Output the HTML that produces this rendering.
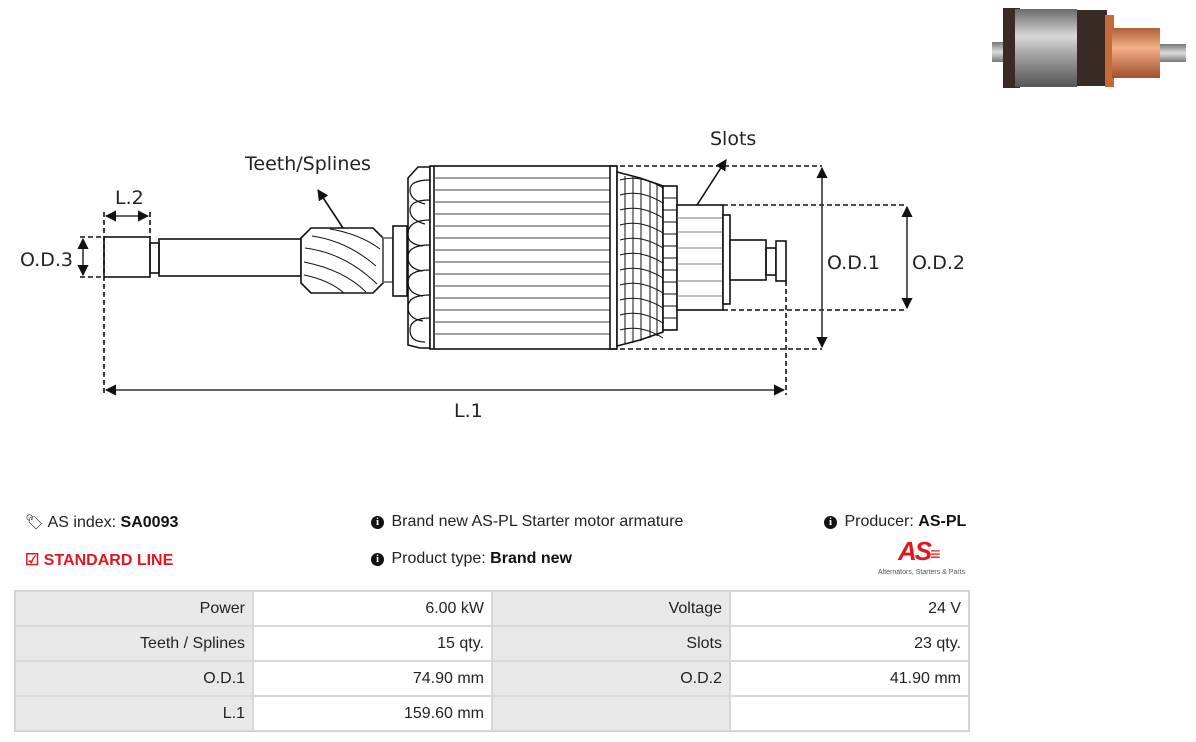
<!DOCTYPE html>
<html><head><meta charset="utf-8"><style>
body{margin:0;width:1196px;height:742px;background:#fff;position:relative;overflow:hidden;font-family:"Liberation Sans",sans-serif;color:#222}
.t{position:absolute;font-size:16px;white-space:nowrap}
b{font-weight:bold;color:#111}
.i{display:inline-block;width:13px;height:13px;border-radius:50%;background:#111;color:#fff;font-size:11px;font-weight:bold;text-align:center;line-height:13px;font-family:"Liberation Serif",serif;vertical-align:1px;margin-right:3px}
table{position:absolute;left:14px;top:590px;border-collapse:separate;border-spacing:0;border:1px solid #d0d0d0;background:#d8d8d8}
td{height:35px;padding:0 7px;text-align:right;font-size:16px;border:1px solid #d8d8d8;box-sizing:border-box}
td.l{background:#e8e8e8;width:238px}
td.v{background:#fff;width:239px}
</style></head><body>
<svg width="1196" height="500" style="position:absolute;left:0;top:0" xmlns="http://www.w3.org/2000/svg">
<defs>
<linearGradient id="ph" x1="0" y1="0" x2="0" y2="1"><stop offset="0" stop-color="#6a6a6a"/><stop offset=".35" stop-color="#d8d8d8"/><stop offset=".6" stop-color="#a0a0a0"/><stop offset="1" stop-color="#555"/></linearGradient>
<linearGradient id="cu" x1="0" y1="0" x2="0" y2="1"><stop offset="0" stop-color="#b06038"/><stop offset=".4" stop-color="#f4b088"/><stop offset="1" stop-color="#a05030"/></linearGradient>
<linearGradient id="sh" x1="0" y1="0" x2="0" y2="1"><stop offset="0" stop-color="#777"/><stop offset=".5" stop-color="#ddd"/><stop offset="1" stop-color="#777"/></linearGradient>
<marker id="a" viewBox="0 0 10 10" refX="9" refY="5" markerWidth="7" markerHeight="7" orient="auto-start-reverse"><path d="M0,0L10,5L0,10z" fill="#111"/></marker>
</defs>
<!-- photo -->
<rect x="992" y="42" width="14" height="20" fill="url(#sh)"/>
<rect x="1003" y="8" width="17" height="80" fill="#3a2a25"/>
<rect x="1015" y="9" width="62" height="78" fill="url(#ph)"/>
<rect x="1077" y="10" width="30" height="76" fill="#3a2a25"/>
<rect x="1105" y="15" width="9" height="72" fill="#c86a38"/>
<rect x="1112" y="28" width="48" height="50" fill="url(#cu)"/>
<rect x="1160" y="44" width="26" height="18" fill="url(#sh)"/>
<g fill="none" stroke="#111" stroke-width="1.6">
<rect x="104" y="237" width="46" height="40" fill="#fff"/>
<rect x="150" y="243" width="9" height="30"/>
<rect x="159" y="239" width="142" height="37"/>
<path d="M311,228H373L383,238V283L373,293H311L301,283V238Z" fill="#fff"/>
<g stroke-width="1"><path d="M312,236q35,5 64,30M305,248q40,5 72,36M304,262q40,8 62,30M304,275q25,5 40,18M330,229q30,5 50,20"/></g>
<rect x="383" y="238" width="10" height="44" stroke="#666"/>
<rect x="393" y="226" width="14" height="70" fill="#fff"/>
<path d="M430,167H418L408,178V345L420,348H430Z" fill="#fff"/>
<g stroke-width="1.2">
<path d="M430,180q-20,0 -20,10t15,14"/><path d="M430,200q-20,0 -20,10t15,14"/><path d="M430,220q-20,0 -22,12t15,14"/><path d="M430,245q-22,0 -22,12t15,14"/><path d="M430,270q-22,0 -22,12t15,14"/><path d="M430,295q-22,0 -22,12t15,14"/><path d="M430,318q-20,0 -20,12t15,12"/>
</g>
<rect x="430" y="166" width="182" height="183" fill="#fff"/>
<line x1="434" y1="166" x2="434" y2="349"/>
<g stroke="#444" stroke-width="1">
<path d="M434,178H610M434,190H610M434,202H610M434,214H610M434,226H610M434,238H610M434,250H610M434,262H610M434,274H610M434,286H610M434,298H610M434,310H610M434,322H610M434,334H610"/>
</g>
<rect x="610" y="166" width="7" height="183" fill="#fff"/>
<path d="M617,172L640,178L663,186V332L640,340L617,346Z" fill="#fff"/>
<g stroke-width="1">
<path d="M620,180q20,-6 43,8M620,195q20,-6 43,8M620,210q20,-6 43,8M620,225q20,-6 43,8M620,240q20,-6 43,8M620,255q20,-6 43,8M620,270q20,-6 43,8M620,285q20,-6 43,8M620,300q20,-6 43,8M620,315q20,-6 43,8M620,330q20,-6 43,8"/>
<path d="M625,176V344M633,177V343M641,178V341M650,181V338M657,183V336"/>
</g>
<rect x="663" y="186" width="14" height="144" fill="#fff"/>
<path d="M663,198H677M663,210H677M663,222H677M663,234H677M663,246H677M663,258H677M663,270H677M663,282H677M663,294H677M663,306H677M663,318H677" stroke-width="1"/>
<rect x="677" y="205" width="46" height="105" fill="#fff"/>
<path d="M677,218H723M677,232H723M677,248H723M677,264H723M677,281H723M677,296H723" stroke="#777" stroke-width="1"/>
<rect x="723" y="215" width="7" height="89" fill="#fff"/>
<rect x="730" y="240" width="36" height="40" fill="#fff"/>
<rect x="766" y="248" width="10" height="27"/>
<rect x="776" y="241" width="10" height="40" fill="#fff"/>
</g>
<g stroke="#111" stroke-width="1.6" stroke-dasharray="5,3" fill="none">
<path d="M612,166H822M612,349H822M723,205H907M723,310H907"/>
<path d="M104,212V395M786,281V395M150,212V237M80,237H104M80,277H104"/>
</g>
<g stroke="#333" stroke-width="1.6" fill="none" marker-start="url(#a)" marker-end="url(#a)">
<line x1="822" y1="168" x2="822" y2="347"/>
<line x1="907" y1="207" x2="907" y2="308"/>
<line x1="106" y1="390" x2="784" y2="390"/>
<line x1="106" y1="216" x2="148" y2="216"/>
<line x1="83" y1="239" x2="83" y2="275"/>
</g>
<g stroke="#111" stroke-width="1.6" marker-end="url(#a)">
<line x1="343" y1="228" x2="318" y2="190"/>
<line x1="697" y1="205" x2="726" y2="160"/>
</g>
<g font-family="'DejaVu Sans',sans-serif" font-size="19" fill="#222">
<text x="245" y="170">Teeth/Splines</text>
<text x="710" y="145">Slots</text>
<text x="115" y="204">L.2</text>
<text x="20" y="266">O.D.3</text>
<text x="827" y="269">O.D.1</text>
<text x="912" y="269">O.D.2</text>
<text x="454" y="417">L.1</text>
</g>
</svg>
<div class="t" style="left:25px;top:513px"><span style="font-size:15px">&#x1F3F7;&#xFE0E;</span> AS index: <b>SA0093</b></div>
<div class="t" style="left:25px;top:550px;color:#e3161e;font-weight:bold">&#9745; STANDARD LINE</div>
<div class="t" style="left:371px;top:513px"><span class="i">i</span> Brand new AS-PL Starter motor armature</div>
<div class="t" style="left:371px;top:550px"><span class="i">i</span> Product type: <b>Brand new</b></div>
<div class="t" style="left:824px;top:513px"><span class="i">i</span> Producer: <b>AS-PL</b></div>
<div class="t" style="left:898px;top:536px;color:#e3161e;font-weight:bold;font-style:italic;font-size:26px;letter-spacing:-2px">AS<span style="font-size:18px;letter-spacing:0">&#8801;</span></div>
<div class="t" style="left:878px;top:569px;font-size:7px;color:#555">Alternators, Starters &amp; Parts</div>
<table>
<tr><td class="l">Power</td><td class="v">6.00 kW</td><td class="l">Voltage</td><td class="v">24 V</td></tr>
<tr><td class="l">Teeth / Splines</td><td class="v">15 qty.</td><td class="l">Slots</td><td class="v">23 qty.</td></tr>
<tr><td class="l">O.D.1</td><td class="v">74.90 mm</td><td class="l">O.D.2</td><td class="v">41.90 mm</td></tr>
<tr><td class="l">L.1</td><td class="v">159.60 mm</td><td class="l"></td><td class="v"></td></tr>
</table>
</body></html>
